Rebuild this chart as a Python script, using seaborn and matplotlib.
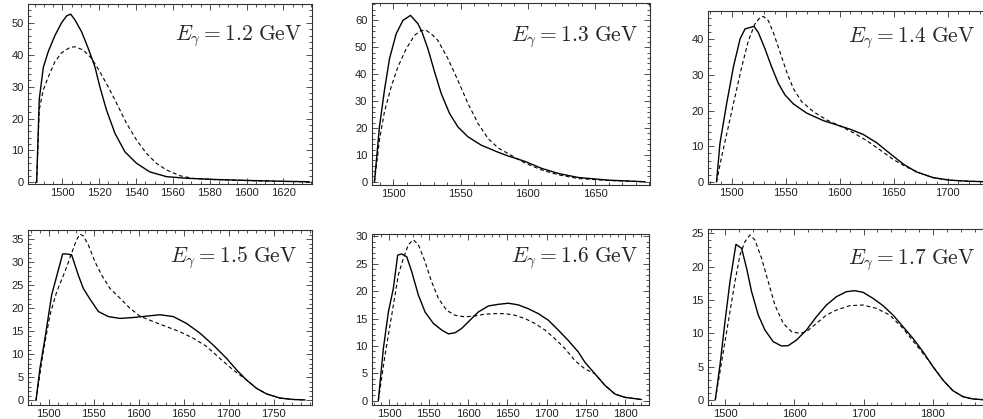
import pandas as pd
import seaborn as sns
import matplotlib.pyplot as plt
from matplotlib.ticker import MultipleLocator

# eta-p invariant mass spectra, full vs. free model, six photon energies
sns.set_style('white')
plt.rcParams['font.family'] = ['Liberation Sans', 'DejaVu Sans']
plt.rcParams['mathtext.fontset'] = 'cm'

e_gamma = ['1.2', '1.3', '1.4', '1.5', '1.6', '1.7']

# --- E_gamma = 1.2 GeV ---
m12_full = [1486, 1487.4, 1489.6, 1492.3, 1495.9, 1499.5, 1502.3, 1504.5, 1506.8, 1510.4, 1514.0,
            1517.6, 1520.3, 1523.9, 1528.5, 1533.9, 1540.2, 1547.4, 1556.5, 1567.3, 1583.6,
            1601.6, 1619.7, 1634]
y12_full = [0, 26, 36, 41, 46, 50, 52.2, 52.7, 50.9, 47.2, 42.0, 36.3, 30.0, 22.7, 15.4, 9.6, 6.0,
            3.3, 1.8, 1.3, 0.9, 0.6, 0.35, 0.2]
m12_free = [1486, 1487.4, 1489.6, 1492.3, 1495.9, 1499.5, 1504.1, 1506.8, 1511.3, 1515.8, 1520.3,
            1524.8, 1529.4, 1534.8, 1540.2, 1545.6, 1551.0, 1556.5, 1563.7, 1570.9, 1583.6,
            1601.6, 1619.7, 1634]
y12_free = [0, 22.7, 29, 33, 37.8, 40.6, 42.3, 42.5, 41.5, 38.9, 34.7, 30.0, 24.8, 18.5, 13.3, 9.1,
            6.0, 3.9, 2.1, 1.25, 0.85, 0.55, 0.3, 0.15]

# --- E_gamma = 1.3 GeV ---
m13_full = [1486, 1489.7, 1493.4, 1497.2, 1502.1, 1507.1, 1512.8, 1518.3, 1521.3, 1525.7, 1530.7,
            1535.6, 1541.8, 1548.0, 1555.5, 1565.4, 1577.8, 1585.3, 1597.7, 1610.1, 1622.5,
            1637.4, 1659.7, 1687]
y13_full = [0, 20.4, 34, 45.8, 55, 60, 61.9, 58.8, 55.7, 49.5, 40.8, 32.8, 25.4, 20.4, 16.7, 13.6,
            11.0, 9.6, 7.6, 5.0, 3.1, 1.6, 0.6, 0]
m13_free = [1486, 1489.7, 1493.4, 1498.4, 1503.4, 1509.6, 1515.8, 1520.7, 1524.5, 1528.2, 1533.1,
            1540.6, 1548.0, 1555.5, 1562.9, 1570.4, 1577.8, 1587.7, 1597.7, 1610.1, 1622.5,
            1637.4, 1659.7, 1687]
y13_free = [0, 15.5, 26, 35.3, 42.7, 49.5, 54.5, 56.3, 56.3, 55, 52.6, 45.8, 37.7, 29.1, 21.7, 16.1,
            12.6, 9.8, 7.0, 4.4, 2.6, 1.2, 0.5, 0]

# --- E_gamma = 1.4 GeV ---
m14_full = [1486, 1489.2, 1495.4, 1501.6, 1507.8, 1512.4, 1517.0, 1520.7, 1524.7, 1530.9, 1537.1,
            1543.3, 1549.4, 1557.1, 1569.5, 1584.9, 1597.3, 1609.6, 1622.0, 1634.3, 1646.6,
            1659.0, 1671.3, 1686.8, 1702.2, 1720, 1738]
y14_full = [0, 10.9, 22, 32.2, 40.1, 42.9, 43.3, 43.6, 41.9, 37.3, 32.2, 27.6, 24.4, 21.9, 19.3,
            17.2, 16.0, 14.8, 13.3, 11.0, 8.0, 5.0, 2.8, 1.2, 0.5, 0.2, 0.05]
m14_free = [1486, 1490.8, 1497.0, 1503.1, 1509.3, 1515.5, 1521.6, 1526.3, 1529.4, 1534.0, 1538.6,
            1544.8, 1551.0, 1557.1, 1564.9, 1575.7, 1588.0, 1600.4, 1612.7, 1625.0, 1637.4,
            1649.7, 1662.0, 1674.4, 1686.8, 1702.2, 1720, 1738]
y14_free = [0, 7.2, 15.6, 23.9, 32.2, 39.6, 44.3, 46.1, 46.4, 45.2, 41.9, 36.4, 30.8, 26.2, 22.5,
            19.7, 17.4, 15.7, 13.8, 11.6, 9.0, 6.3, 4.2, 2.5, 1.2, 0.5, 0.2, 0.05]

# --- E_gamma = 1.5 GeV ---
m15_full = [1486, 1490.4, 1496.0, 1503.4, 1510.8, 1515.6, 1520.0, 1525.6, 1533.0, 1538.6, 1545.3,
            1555.3, 1566.4, 1579.3, 1594.1, 1609.0, 1623.8, 1638.6, 1653.4, 1668.2, 1683.0,
            1697.9, 1709.0, 1720.1, 1731.2, 1742.3, 1757.1, 1772.0, 1785]
y15_full = [0, 7.0, 13.5, 22.9, 28.3, 31.8, 31.8, 31.6, 27.2, 24.3, 22.2, 19.3, 18.2, 17.8, 18.0,
            18.3, 18.6, 18.2, 16.7, 14.6, 12.0, 9.1, 6.6, 4.4, 2.6, 1.4, 0.5, 0.2, 0.1]
m15_free = [1486, 1494.1, 1501.6, 1509.0, 1518.2, 1525.6, 1531.2, 1534.9, 1538.6, 1544.1, 1551.5,
            1559.0, 1568.2, 1579.3, 1590.4, 1601.5, 1616.4, 1631.2, 1646.0, 1660.8, 1675.6,
            1690.4, 1705.2, 1720.1, 1731.2, 1742.3, 1757.1, 1772.0, 1785]
y15_free = [0, 10.6, 18.6, 23.6, 28.0, 32.0, 34.9, 36.1, 35.7, 33.8, 30.1, 27.2, 24.3, 22.2, 20.0,
            18.3, 17.1, 16.0, 14.9, 13.5, 11.7, 9.1, 6.6, 4.4, 2.6, 1.4, 0.5, 0.2, 0.1]

# --- E_gamma = 1.6 GeV ---
m16_full = [1486, 1492.4, 1498.8, 1505.1, 1510.6, 1515.7, 1522.1, 1528.4, 1536.9, 1545.4, 1556.0,
            1566.6, 1575.0, 1583.5, 1592.0, 1602.5, 1613.1, 1625.8, 1638.5, 1651.2, 1663.9,
            1676.6, 1689.3, 1702.0, 1714.7, 1727.4, 1740.1, 1748.6, 1761.3, 1774.0, 1786.7,
            1799.4, 1820.6]
y16_full = [0, 9.5, 16.2, 20.5, 26.6, 26.8, 26.3, 23.6, 19.3, 16.2, 14.1, 12.9, 12.2, 12.4, 13.2,
            14.7, 16.2, 17.3, 17.6, 17.8, 17.5, 16.8, 15.9, 14.7, 12.9, 11.0, 8.9, 7.0, 4.9, 2.8,
            1.2, 0.6, 0.2]
m16_free = [1486, 1494.5, 1503.0, 1511.5, 1517.8, 1524.2, 1530.5, 1536.9, 1545.4, 1553.8, 1562.3,
            1572.9, 1583.5, 1596.2, 1608.9, 1621.6, 1634.3, 1647.0, 1659.7, 1672.4, 1685.1,
            1697.8, 1710.6, 1723.3, 1736.0, 1748.6, 1761.3, 1774.0, 1786.7, 1799.4, 1820.6]
y16_free = [0, 8.3, 15.6, 23.0, 26.0, 28.5, 29.4, 28.5, 25.4, 21.7, 18.7, 16.5, 15.6, 15.3, 15.5,
            15.8, 15.9, 15.9, 15.6, 15.0, 14.1, 12.9, 11.3, 9.5, 7.3, 5.8, 4.9, 2.8, 1.2, 0.6, 0.2]

# --- E_gamma = 1.7 GeV ---
m17_full = [1486, 1492.8, 1500.0, 1507.2, 1515.8, 1524.0, 1531.2, 1538.4, 1548.0, 1557.6, 1569.6,
            1581.6, 1591.2, 1603.2, 1617.6, 1632.0, 1646.4, 1660.8, 1675.2, 1687.2, 1699.2,
            1713.6, 1728.0, 1742.4, 1756.8, 1771.2, 1785.6, 1800.0, 1814.4, 1828.8, 1843.3,
            1857.7, 1880]
y17_full = [0, 5.25, 11.75, 17.75, 23.35, 22.75, 19.75, 16.25, 12.75, 10.5, 8.75, 8.1, 8.15, 9.0,
            10.5, 12.5, 14.25, 15.5, 16.25, 16.4, 16.15, 15.25, 14.15, 12.75, 11.0, 9.25, 7.25,
            5.0, 3.0, 1.4, 0.5, 0.15, 0]
m17_free = [1486, 1495.2, 1504.8, 1514.4, 1521.6, 1528.8, 1536.0, 1543.2, 1552.8, 1562.4, 1572.0,
            1584.0, 1596.0, 1608.0, 1617.6, 1632.0, 1646.4, 1660.8, 1680.0, 1699.2, 1718.4,
            1737.6, 1756.8, 1776.0, 1795.2, 1814.4, 1828.8, 1843.3, 1857.7, 1880]
y17_free = [0, 5.75, 11.75, 17.75, 21.75, 23.75, 24.75, 24.0, 21.25, 17.75, 14.25, 11.5, 10.25,
            10.0, 10.25, 11.5, 12.75, 13.5, 14.15, 14.25, 13.75, 12.75, 10.75, 8.25, 5.75, 3.0,
            1.4, 0.5, 0.15, 0]

curves = [(m12_full, y12_full, m12_free, y12_free),
          (m13_full, y13_full, m13_free, y13_free),
          (m14_full, y14_full, m14_free, y14_free),
          (m15_full, y15_full, m15_free, y15_free),
          (m16_full, y16_full, m16_free, y16_free),
          (m17_full, y17_full, m17_free, y17_free)]

# layout: frame in pixels (left, right, top, bottom), limits, tick steps, label anchor (px)
W, H = 983, 419
layout = [
    dict(box=(28, 312, 4, 184), xlim=(1481.3, 1635.5), ylim=(-0.5, 55.9), xs=(20, 5), ys=(10, 2), txt=(302, 36)),
    dict(box=(371.5, 650, 3, 185), xlim=(1483.8, 1690.7), ylim=(-1.2, 66.5), xs=(50, 10), ys=(10, 2), txt=(638, 37)),
    dict(box=(708, 994, 10.7, 184.3), xlim=(1478.1, 1743), ylim=(-0.65, 48), xs=(50, 10), ys=(10, 2), txt=(975, 38)),
    dict(box=(28, 312, 230, 405), xlim=(1477.1, 1792.7), ylim=(-1.0, 37.0), xs=(50, 10), ys=(5, 1), txt=(297, 258)),
    dict(box=(371.7, 649, 234.3, 405), xlim=(1477.6, 1830), ylim=(-0.8, 30.4), xs=(50, 10), ys=(5, 1), txt=(638, 258)),
    dict(box=(708, 996, 229, 405), xlim=(1475.5, 1891), ylim=(-0.75, 25.65), xs=(100, 20), ys=(5, 1), txt=(975, 260)),
]

fig = plt.figure(figsize=(W / 100, H / 100), dpi=100)

for (mf, yf, md, yd), lay, eg in zip(curves, layout, e_gamma):
    l, r, t, b = lay['box']
    ax = fig.add_axes([l / W, 1 - b / H, (r - l) / W, (b - t) / H])
    full = pd.DataFrame({'M': mf, 'dsig': yf})
    free = pd.DataFrame({'M': md, 'dsig': yd})
    sns.lineplot(data=full, x='M', y='dsig', color='black', lw=1.0, ax=ax, estimator=None)
    sns.lineplot(data=free, x='M', y='dsig', color='black', lw=0.8, ax=ax, estimator=None,
                 dashes=False, linestyle=(0, (3.5, 2.5)))
    ax.set_xlim(*lay['xlim'])
    ax.set_ylim(*lay['ylim'])
    ax.xaxis.set_major_locator(MultipleLocator(lay['xs'][0]))
    ax.xaxis.set_minor_locator(MultipleLocator(lay['xs'][1]))
    ax.yaxis.set_major_locator(MultipleLocator(lay['ys'][0]))
    ax.yaxis.set_minor_locator(MultipleLocator(lay['ys'][1]))
    ax.set_xlabel('')
    ax.set_ylabel('')
    ax.tick_params(which='both', direction='in', bottom=True, left=True, top=True, right=True,
                   width=0.6, color='#333333', labelsize=8, labelcolor='#222222', pad=3)
    ax.tick_params(which='major', length=4)
    ax.tick_params(which='minor', length=2)
    for sp in ax.spines.values():
        sp.set_linewidth(0.8)
        sp.set_color('#333333')
    tx, ty = lay['txt']
    fig.text(tx / W, 1 - ty / H, r'$E_\gamma = %s\ \mathrm{GeV}$' % eg,
             ha='right', va='center', fontsize=15.5)

fig.savefig('out.png', dpi=100)
